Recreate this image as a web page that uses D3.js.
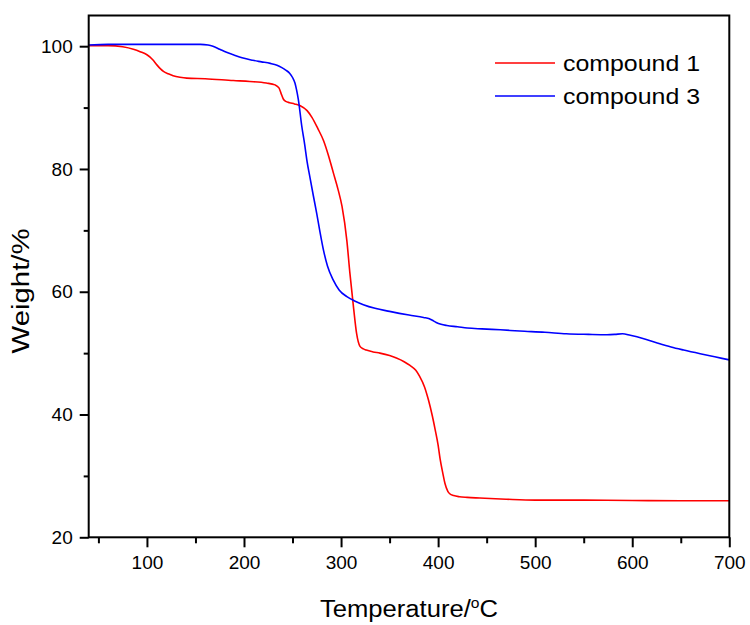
<!DOCTYPE html>
<html>
<head>
    <script src="https://d3js.org/d3.v7.min.js"></script>
    <style>
        body {
            margin: 0;
            background: #fff;
            font-family: 'Liberation Sans', Arial, sans-serif;
        }
        .tick text { font-family: 'Liberation Sans', Arial, sans-serif; fill: #000; }
    </style>
</head>
<body>
<div id="tga-chart"></div>

<script>
// compound 1 (red)
const temp1 = [40, 60, 75, 86, 93, 100, 106, 110, 114, 117, 122, 127, 134, 141, 160, 189, 206, 223, 232, 236, 238, 240.5, 243, 247, 252, 258, 265, 270, 276, 282, 287, 292, 297, 301, 306, 309, 313, 316, 319.5, 323, 326, 333, 340, 350, 357, 365, 371, 377, 381, 386, 390, 394, 397, 400, 402, 405, 407, 410, 412, 416, 422, 430, 443, 470, 500, 550, 600, 650, 700];
const weight1 = [100.1, 100.1, 99.9, 99.5, 99.1, 98.6, 97.8, 97.0, 96.3, 95.9, 95.5, 95.2, 94.95, 94.8, 94.7, 94.4, 94.25, 94.0, 93.7, 93.2, 92.4, 91.4, 91.0, 90.8, 90.6, 90.3, 89.5, 88.4, 86.6, 84.6, 82.2, 79.4, 76.6, 73.9, 68.3, 63.2, 57.2, 53.2, 51.1, 50.7, 50.5, 50.2, 50.0, 49.6, 49.2, 48.6, 48.0, 47.2, 46.2, 44.5, 42.4, 39.8, 37.5, 35.0, 32.8, 30.3, 28.8, 27.5, 27.1, 26.8, 26.6, 26.5, 26.4, 26.2, 26.05, 26.05, 26.0, 25.95, 25.95];

// compound 3 (blue)
const temp3 = [40, 60, 80, 100, 120, 140, 155, 163, 168, 175, 182, 189, 198, 209, 218, 227, 234, 239, 243, 247, 250, 252.5, 254, 256, 259.5, 262.5, 265, 268, 271.5, 275, 278, 282, 286, 292, 298, 306, 314, 323, 335, 350, 370, 385, 391, 394, 398, 403, 409, 420, 430, 445, 464, 484, 510, 532, 555, 574, 582, 590, 598, 611, 625, 640, 653, 670, 685, 700];
const weight3 = [100.2, 100.3, 100.3, 100.3, 100.3, 100.3, 100.3, 100.2, 100.0, 99.5, 99.0, 98.6, 98.1, 97.7, 97.45, 97.2, 96.9, 96.5, 96.1, 95.6, 94.9, 94.0, 93.0, 91.3, 87.0, 84.0, 81.2, 78.6, 75.6, 72.7, 70.0, 66.7, 64.2, 61.9, 60.3, 59.2, 58.5, 57.9, 57.3, 56.8, 56.2, 55.8, 55.6, 55.35, 55.0, 54.7, 54.5, 54.3, 54.1, 53.95, 53.8, 53.6, 53.4, 53.15, 53.05, 53.0, 53.05, 53.15, 52.9, 52.4, 51.7, 51.0, 50.5, 49.9, 49.4, 48.9];

const xMajor = [100, 200, 300, 400, 500, 600, 700];
const xMinor = [50, 150, 250, 350, 450, 550, 650];
const yMajor = [20, 40, 60, 80, 100];
const yMinor = [30, 50, 70, 90];

const seriesNames = ["compound 1", "compound 3"];
const seriesColors = ["#ff0000", "#0000ff"];

const width = 750;
const height = 625;
const margin = { top: 15.5, right: 20.7, bottom: 87.7, left: 88.7 };
const chartWidth = width - margin.left - margin.right;
const chartHeight = height - margin.top - margin.bottom;

const svg = d3.select("#tga-chart")
    .append("svg")
    .attr("width", width)
    .attr("height", height)
    .append("g")
    .attr("transform", `translate(${margin.left},${margin.top})`);

const xScale = d3.scaleLinear().domain([40, 700]).range([0, chartWidth]);
const yScale = d3.scaleLinear().domain([20, 105]).range([chartHeight, 0]);

// minor ticks first
svg.append("g")
    .attr("transform", `translate(0,${chartHeight})`)
    .call(d3.axisBottom(xScale).tickValues(xMinor).tickSize(6).tickFormat(""))
    .call(g => g.select(".domain").remove())
    .selectAll("line").attr("stroke", "#000").attr("stroke-width", 2);

svg.append("g")
    .call(d3.axisLeft(yScale).tickValues(yMinor).tickSize(5).tickFormat(""))
    .call(g => g.select(".domain").remove())
    .selectAll("line").attr("stroke", "#000").attr("stroke-width", 2);

// major ticks
const xAxis = svg.append("g")
    .attr("transform", `translate(0,${chartHeight})`)
    .call(d3.axisBottom(xScale).tickValues(xMajor).tickSize(10).tickPadding(8));
xAxis.select(".domain").remove();
xAxis.selectAll("line").attr("stroke", "#000").attr("stroke-width", 2);
xAxis.selectAll("text").attr("font-size", 19);

const yAxis = svg.append("g")
    .call(d3.axisLeft(yScale).tickValues(yMajor).tickSize(9).tickPadding(7));
yAxis.select(".domain").remove();
yAxis.selectAll("line").attr("stroke", "#000").attr("stroke-width", 2);
yAxis.selectAll("text").attr("font-size", 19);

// curves
const line = d3.line()
    .x(d => xScale(d[0]))
    .y(d => yScale(d[1]))
    .curve(d3.curveMonotoneX);

const series = [
    d3.zip(temp1, weight1),
    d3.zip(temp3, weight3)
];

svg.selectAll(".curve")
    .data(series)
    .join("path")
    .attr("class", "curve")
    .attr("d", line)
    .attr("fill", "none")
    .attr("stroke", (d, i) => seriesColors[i])
    .attr("stroke-width", 1.6);

// frame
svg.append("rect")
    .attr("width", chartWidth)
    .attr("height", chartHeight)
    .attr("fill", "none")
    .attr("stroke", "#000")
    .attr("stroke-width", 2);

// legend
const legend = svg.append("g")
    .attr("transform", `translate(${495 - margin.left},${63 - margin.top})`);

seriesNames.forEach((name, i) => {
    const row = legend.append("g").attr("transform", `translate(0,${i * 33})`);
    row.append("line")
        .attr("x1", 0).attr("x2", 60)
        .attr("stroke", seriesColors[i])
        .attr("stroke-width", 1.6);
    row.append("text")
        .attr("x", 68)
        .attr("y", 8)
        .attr("font-size", 22)
        .attr("textLength", 137)
        .attr("lengthAdjust", "spacingAndGlyphs")
        .text(name);
});

// axis titles
svg.append("text")
    .attr("x", 409 - margin.left)
    .attr("y", 617 - margin.top)
    .attr("text-anchor", "middle")
    .attr("font-size", 23)
    .attr("textLength", 178)
    .attr("lengthAdjust", "spacingAndGlyphs")
    .html('Temperature/<tspan dy="-9" font-size="14">o</tspan><tspan dy="9">C</tspan>');

svg.append("text")
    .attr("transform", `translate(${29 - margin.left},${291 - margin.top}) rotate(-90)`)
    .attr("text-anchor", "middle")
    .attr("font-size", 23)
    .attr("textLength", 125)
    .attr("lengthAdjust", "spacingAndGlyphs")
    .text("Weight/%");
</script>
</body>
</html>
